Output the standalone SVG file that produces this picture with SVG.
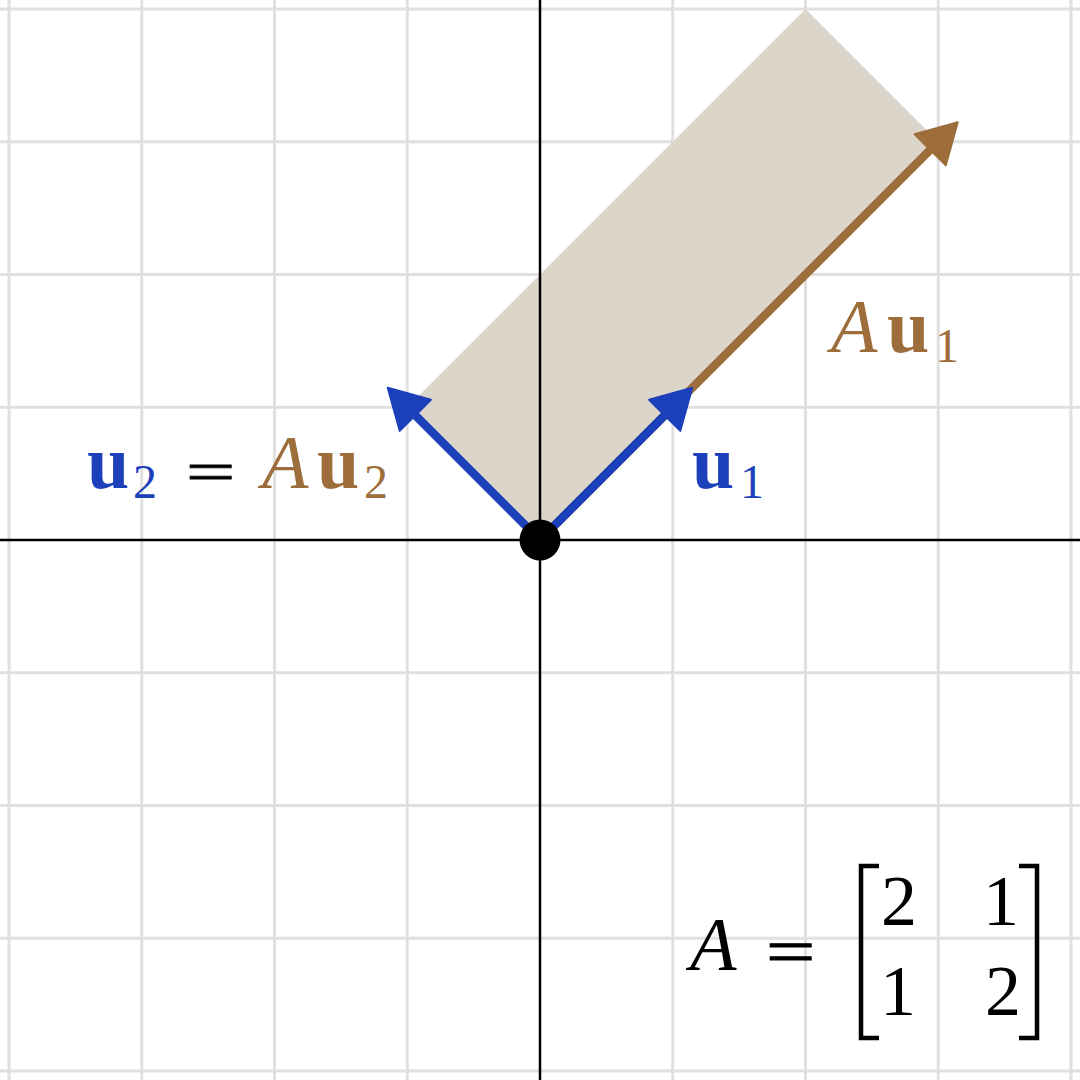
<svg xmlns="http://www.w3.org/2000/svg" width="1080" height="1080" viewBox="0 0 1080 1080">
<style>
.grid line{stroke:#e0e0e0;stroke-width:3}
.axis{stroke:#000;stroke-width:2.5}
.t{font-family:"Liberation Serif","DejaVu Serif",serif}
.b{font-weight:bold}
.i{font-style:italic}
.blue{fill:#1c3fba}
.brown{fill:#9d6d3b}
.eq{fill:#000;stroke:#000;stroke-width:1.2}
</style>
<defs>
<marker id="ahBlue" markerUnits="userSpaceOnUse" orient="auto" overflow="visible" markerWidth="1" markerHeight="1" refX="0" refY="0">
<path d="M27.6 0 L-11.4 -22 L-11.4 22 Z" fill="#1c3fba" stroke="#1c3fba" stroke-width="2" stroke-linejoin="round"/>
</marker>
<marker id="ahBrown" markerUnits="userSpaceOnUse" orient="auto" overflow="visible" markerWidth="1" markerHeight="1" refX="0" refY="0">
<path d="M27.6 0 L-11.4 -22 L-11.4 22 Z" fill="#9d6d3b" stroke="#9d6d3b" stroke-width="2" stroke-linejoin="round"/>
</marker>
</defs>
<rect width="1080" height="1080" fill="#fff"/>
<g class="grid">
<line x1="9" y1="0" x2="9" y2="1080"/>
<line x1="141.75" y1="0" x2="141.75" y2="1080"/>
<line x1="274.5" y1="0" x2="274.5" y2="1080"/>
<line x1="407.25" y1="0" x2="407.25" y2="1080"/>
<line x1="672.75" y1="0" x2="672.75" y2="1080"/>
<line x1="805.5" y1="0" x2="805.5" y2="1080"/>
<line x1="938.25" y1="0" x2="938.25" y2="1080"/>
<line x1="1071" y1="0" x2="1071" y2="1080"/>
<line x1="0" y1="9" x2="1080" y2="9"/>
<line x1="0" y1="141.75" x2="1080" y2="141.75"/>
<line x1="0" y1="274.5" x2="1080" y2="274.5"/>
<line x1="0" y1="407.25" x2="1080" y2="407.25"/>
<line x1="0" y1="672.75" x2="1080" y2="672.75"/>
<line x1="0" y1="805.5" x2="1080" y2="805.5"/>
<line x1="0" y1="938.25" x2="1080" y2="938.25"/>
<line x1="0" y1="1071" x2="1080" y2="1071"/>
</g>
<g id="parallelogram">
<polygon points="540,540 938.25,141.75 805.5,9 407.25,407.25" fill="#dcd5ca"/>
</g>
<g id="axes">
<line class="axis" x1="540" y1="0" x2="540" y2="1080"/>
<line class="axis" x1="0" y1="540" x2="1080" y2="540"/>
</g>
<g id="connectors">
<line id="Au1" x1="540" y1="540" x2="938.25" y2="141.75" stroke="#9d6d3b" stroke-width="8.5" marker-end="url(#ahBrown)"/>
<line id="u1" x1="540" y1="540" x2="672.75" y2="407.25" stroke="#1c3fba" stroke-width="8.5" marker-end="url(#ahBlue)"/>
<line id="u2" x1="540" y1="540" x2="407.25" y2="407.25" stroke="#1c3fba" stroke-width="8.5" marker-end="url(#ahBlue)"/>
</g>
<g id="origin">
<circle cx="540" cy="540" r="20.5" fill="#000"/>
</g>
<g id="label-u2">
<text class="t b blue" x="87" y="488" font-size="76">u</text>
<text class="t blue" x="133" y="498" font-size="48">2</text>
<text class="t eq" transform="translate(186,490.5) scale(1.15,0.75)" font-size="76">=</text>
<text class="t i brown" x="262" y="488" font-size="76">A</text>
<text class="t b brown" x="317" y="488" font-size="76">u</text>
<text class="t brown" x="364" y="498" font-size="48">2</text>
</g>
<g id="label-u1">
<text class="t b blue" x="692" y="488" font-size="76">u</text>
<text class="t blue" x="740" y="498" font-size="48">1</text>
</g>
<g id="label-Au1">
<text class="t i brown" x="831" y="352" font-size="76">A</text>
<text class="t b brown" x="887" y="352" font-size="76">u</text>
<text class="t brown" x="935" y="362" font-size="48">1</text>
</g>
<g id="matrix">
<text class="t i" x="690" y="970" font-size="76" fill="#000">A</text>
<text class="t eq" transform="translate(766,973.5) scale(1.15,0.85)" font-size="76">=</text>
<path d="M879 866 H861 V1038 H879" fill="none" stroke="#000" stroke-width="4.5"/>
<path d="M1019 866 H1037 V1038 H1019" fill="none" stroke="#000" stroke-width="4.5"/>
<text class="t" x="881" y="925" font-size="72" fill="#000">2</text>
<text class="t" x="983" y="925" font-size="72" fill="#000">1</text>
<text class="t" x="880" y="1015" font-size="72" fill="#000">1</text>
<text class="t" x="985" y="1015" font-size="72" fill="#000">2</text>
</g>
</svg>
